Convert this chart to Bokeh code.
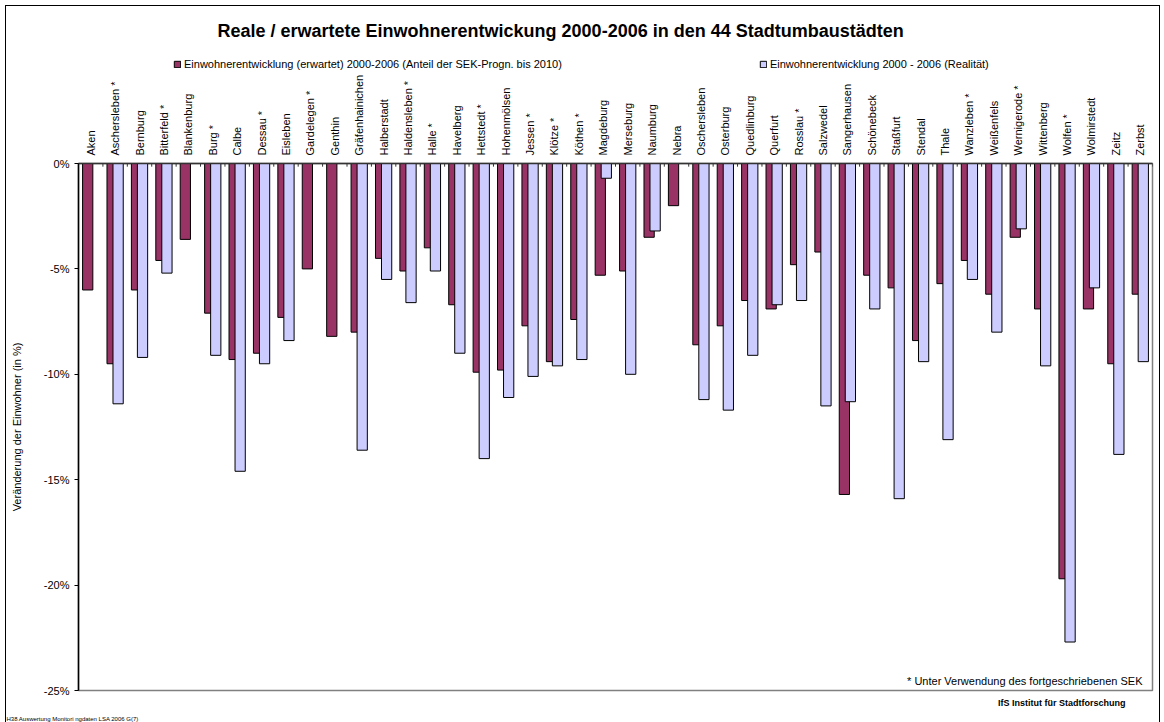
import numpy as np
from bokeh.plotting import figure
from bokeh.layouts import column
from bokeh.models import (FactorRange, ColumnDataSource, Legend, LegendItem,
                          FixedTicker, PrintfTickFormatter, Label, Title)
from bokeh.transform import dodge
from bokeh.embed import file_html
from bokeh.resources import INLINE

FONT = "Liberation Sans"
MAROON = "#993366"
LAVENDER = "#CCCCFF"

cities = ["Aken", "Aschersleben *", "Bernburg", "Bitterfeld *", "Blankenburg",
          "Burg *", "Calbe", "Dessau *", "Eisleben", "Gardelegen *", "Genthin",
          "Gräfenhainichen", "Halberstadt", "Haldensleben *", "Halle *",
          "Havelberg", "Hettstedt *", "Hohenmölsen", "Jessen *", "Klötze *",
          "Köthen *", "Magdeburg", "Merseburg", "Naumburg", "Nebra",
          "Oschersleben", "Osterburg", "Quedlinburg", "Querfurt", "Rosslau *",
          "Salzwedel", "Sangerhausen", "Schönebeck", "Staßfurt", "Stendal",
          "Thale", "Wanzleben *", "Weißenfels", "Wernigerode *", "Wittenberg",
          "Wolfen *", "Wolmirstedt", "Zeitz", "Zerbst"]

# expected change 2000-2006 (share of the SEK forecast up to 2010), in %
expected = [-6.0, -9.5, -6.0, -4.6, -3.6, -7.1, -9.3, -9.0, -7.3, -5.0, -8.2,
            -8.0, -4.5, -5.1, -4.0, -6.7, -9.9, -9.8, -7.7, -9.4, -7.4, -5.3,
            -5.1, -3.5, -2.0, -8.6, -7.7, -6.5, -6.9, -4.8, -4.2, -15.7, -5.3,
            -5.9, -8.4, -5.7, -4.6, -6.2, -3.5, -6.9, -19.7, -6.9, -9.5, -6.2]

# actual change 2000-2006, in % (None = no figure available)
actual = [None, -11.4, -9.2, -5.2, None, -9.1, -14.6, -9.5, -8.4, None, None,
          -13.6, -5.5, -6.6, -5.1, -9.0, -14.0, -11.1, -10.1, -9.6, -9.3, -0.7,
          -10.0, -3.2, None, -11.2, -11.7, -9.1, -6.7, -6.5, -11.5, -11.3, -6.9,
          -15.9, -9.4, -13.1, -5.5, -8.0, -3.1, -9.6, -22.7, -5.9, -13.8, -9.4]

y_ticks = [0, -5, -10, -15, -20, -25]

title_text = "Reale / erwartete Einwohnerentwickung 2000-2006 in den 44 Stadtumbaustädten"
label_expected = "Einwohnerentwicklung (erwartet) 2000-2006 (Anteil der SEK-Progn. bis 2010)"
label_actual = "Einwohnerentwicklung 2000 - 2006 (Realität)"
footnote = "* Unter Verwendung des fortgeschriebenen SEK"
credit = "IfS Institut für Stadtforschung"
source_note = "H38 Auswertung Monitori ngdaten LSA 2006 G(7)"

W = 1153          # inner width of the bordered box
FRAME_W = 1074    # width of the plotting area (strips share it)
HEAD_H = 65       # title + legend strip

# ---- header strip: title and legend (its frame lines up with the chart frame)
head = figure(width=W, height=HEAD_H, x_range=(0, FRAME_W), y_range=(0, HEAD_H),
              x_axis_type=None, y_axis_type=None, output_backend="svg",
              toolbar_location=None, tools="", min_border=0)
head.xgrid.grid_line_color = None
head.ygrid.grid_line_color = None
head.outline_line_color = None
head.background_fill_color = "white"
head.border_fill_color = "white"

head.add_layout(Label(x=139, y=HEAD_H - 24, text=title_text, text_align="left",
                      text_baseline="middle", text_font=FONT, text_font_size="18px",
                      text_font_style="bold", text_color="black"))

# hidden renderers that only supply the legend swatches
swatch = ColumnDataSource(dict(x=[0], top=[0]))
lg_exp = head.vbar(x="x", top="top", width=1, source=swatch, visible=False,
                   fill_color=MAROON, line_color="black", line_width=1)
lg_act = head.vbar(x="x", top="top", width=1, source=swatch, visible=False,
                   fill_color=LAVENDER, line_color="black", line_width=1)
legend = Legend(items=[LegendItem(label=label_expected, renderers=[lg_exp]),
                       LegendItem(label=label_actual, renderers=[lg_act])],
                orientation="horizontal", location=(95, 1),
                label_text_font=FONT, label_text_font_size="11px",
                label_text_color="black", label_height=13,
                glyph_width=8, glyph_height=8, label_standoff=3,
                spacing=197, padding=1, margin=0,
                inactive_fill_alpha=0,
                border_line_color=None, background_fill_alpha=0)
head.add_layout(legend, "center")

# ---- main chart
src_exp = ColumnDataSource(dict(city=cities, val=expected))
act_c = [c for c, v in zip(cities, actual) if v is not None]
act_v = [v for v in actual if v is not None]
src_act = ColumnDataSource(dict(city=act_c, val=act_v))

x_range = FactorRange(*cities, range_padding=0)

p = figure(frame_width=FRAME_W, frame_height=527, x_range=x_range, y_range=(-25, 0),
           x_axis_location="above", output_backend="svg",
           toolbar_location=None, tools="",
           min_border_left=72, min_border_right=7,
           min_border_top=92, min_border_bottom=32)

p.xgrid.grid_line_color = None
p.ygrid.grid_line_color = None
p.outline_line_color = "#808080"
p.outline_line_width = 1.5
p.background_fill_color = "white"
p.border_fill_color = "white"

p.vbar(x=dodge("city", -0.123, range=x_range), top=0, bottom="val",
       width=0.42, source=src_exp, fill_color=MAROON,
       line_color="black", line_width=1)
p.vbar(x=dodge("city", 0.123, range=x_range), top=0, bottom="val",
       width=0.42, source=src_act, fill_color=LAVENDER,
       line_color="black", line_width=1)

# tick marks on the category boundaries of the top axis
bounds = np.arange(len(cities) + 1)
p.segment(x0=bounds, x1=bounds, y0=0, y1=-0.15, line_color="#333333", line_width=1)

# category axis along the top
xa = p.xaxis[0]
xa.major_label_orientation = "vertical"
xa.major_label_text_font = FONT
xa.major_label_text_font_size = "11px"
xa.major_label_text_color = "black"
xa.major_tick_line_color = None
xa.major_tick_out = 0
xa.major_tick_in = 0
xa.minor_tick_line_color = None
xa.minor_tick_out = 0
xa.major_label_standoff = 8
xa.axis_line_color = "#333333"
xa.axis_line_width = 1.5

ya = p.yaxis[0]
ya.ticker = FixedTicker(ticks=y_ticks)
ya.formatter = PrintfTickFormatter(format="%d%%")
ya.major_label_text_font = FONT
ya.major_label_text_font_size = "11px"
ya.major_label_text_color = "black"
ya.major_tick_out = 4
ya.major_tick_in = 0
ya.minor_tick_line_color = None
ya.major_label_standoff = 5
ya.axis_line_color = "black"
ya.axis_line_width = 1.5
ya.axis_label = "Veränderung der Einwohner (in %)"
ya.axis_label_text_font = FONT
ya.axis_label_text_font_size = "11px"
ya.axis_label_text_font_style = "normal"
ya.axis_label_text_color = "black"
ya.axis_label_standoff = 18

p.add_layout(Label(x=len(cities) - 0.41, y=-24.53, text=footnote,
                   text_align="right", text_baseline="middle", text_font=FONT,
                   text_font_size="11px", text_color="black"))

# footer lines under the chart
p.add_layout(Title(text=credit, align="right", offset=27, standoff=11,
                   text_font=FONT, text_font_size="9px", text_font_style="bold",
                   text_color="black"), "below")
p.add_layout(Title(text=source_note, align="left", offset=-72, standoff=0,
                   text_font=FONT, text_font_size="6px", text_font_style="normal",
                   text_color="black"), "below")

page = column(head, p, spacing=0)
page.styles = {"border-top": "1px solid black", "border-left": "1px solid black",
               "border-right": "1px solid black", "margin-left": "5px",
               "margin-top": "5px"}

open("out.html", "w").write(file_html(page, INLINE))
